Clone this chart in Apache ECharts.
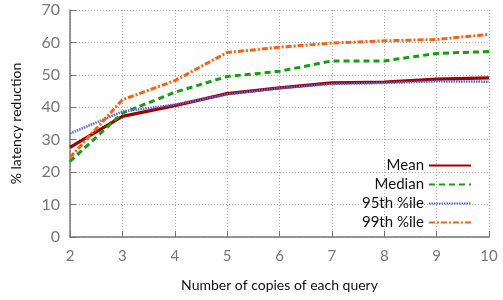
<!DOCTYPE html>
<html lang="en" style="height: 100%">
<head>
  <meta charset="utf-8">
</head>
<body style="height: 100%; margin: 0; background: #fff">
  <div id="container" style="width: 503px; height: 300px"></div>
  <script type="text/javascript" src="https://cdn.jsdelivr.net/npm/echarts@6/dist/echarts.min.js"></script>
  <script type="text/javascript">
    // number of copies on the x axis
    var copies = [2, 3, 4, 5, 6, 7, 8, 9, 10];
    // % latency reduction per series
    var mean = [27.6, 37.2, 40.5, 44.2, 46.0, 47.5, 47.8, 48.7, 49.1];
    var median = [23.3, 38.2, 44.6, 49.5, 51.1, 54.3, 54.3, 56.6, 57.2];
    var p95 = [31.9, 38.7, 40.8, 44.0, 45.9, 47.2, 47.5, 48.0, 47.9];
    var p99 = [24.5, 42.3, 48.2, 56.9, 58.5, 59.8, 60.5, 60.9, 62.5];

    var font = 'Lato';

    function pairs(vals) {
      return copies.map(function (c, i) { return [c, vals[i]]; });
    }

    var myChart = echarts.init(document.getElementById('container'), null, { renderer: 'canvas' });

    var gridLine = { show: true, lineStyle: { color: '#aaa', type: [1, 2], width: 1 } };

    var option = {
      animation: false,
      backgroundColor: '#fff',
      grid: { left: 70, right: 14, top: 10, bottom: 63 },
      legend: {
        orient: 'vertical',
        right: 26,
        top: 153,
        align: 'right',
        itemWidth: 42,
        itemHeight: 10,
        itemGap: 4,
        itemStyle: { opacity: 0 },
        textStyle: { fontFamily: font, fontSize: 15, color: '#111' },
        data: ['Mean', 'Median', '95th %ile', '99th %ile']
      },
      xAxis: {
        type: 'value',
        min: 2,
        max: 10,
        interval: 1,
        name: 'Number of copies of each query',
        nameLocation: 'middle',
        nameGap: 41,
        nameTextStyle: { fontFamily: font, fontSize: 14, color: '#111' },
        axisLine: { lineStyle: { color: '#777', width: 1.5 } },
        axisTick: { show: true, inside: true, length: 6, lineStyle: { color: '#777' } },
        axisLabel: { fontFamily: font, fontSize: 15, color: '#777', margin: 12 },
        splitLine: gridLine
      },
      yAxis: {
        type: 'value',
        min: 0,
        max: 70,
        interval: 10,
        name: '% latency reduction',
        nameLocation: 'middle',
        nameGap: 47,
        nameTextStyle: { fontFamily: font, fontSize: 14, color: '#111' },
        axisLine: { show: true, lineStyle: { color: '#777', width: 1.5 } },
        axisTick: { show: true, inside: true, length: 6, lineStyle: { color: '#777' } },
        axisLabel: { fontFamily: font, fontSize: 16, color: '#777', margin: 10 },
        splitLine: gridLine
      },
      series: [
        {
          name: 'Mean', type: 'line', symbol: 'none', data: pairs(mean),
          itemStyle: { color: '#a00000' },
          lineStyle: { color: '#a00000', width: 3.2 }
        },
        {
          name: 'Median', type: 'line', symbol: 'none', data: pairs(median),
          itemStyle: { color: '#10a010' },
          lineStyle: { color: '#10a010', width: 3, type: [6, 4] }
        },
        {
          name: '95th %ile', type: 'line', symbol: 'none', data: pairs(p95),
          itemStyle: { color: '#5566dd' },
          lineStyle: { color: '#5566dd', width: 2.5, type: [1.5, 1] }
        },
        {
          name: '99th %ile', type: 'line', symbol: 'none', data: pairs(p99),
          itemStyle: { color: '#ff6010' },
          lineStyle: { color: '#ff6010', width: 3, type: [6, 2, 2, 2] }
        }
      ]
    };

    myChart.setOption(option);
    window.addEventListener('resize', myChart.resize);
  </script>
</body>
</html>
